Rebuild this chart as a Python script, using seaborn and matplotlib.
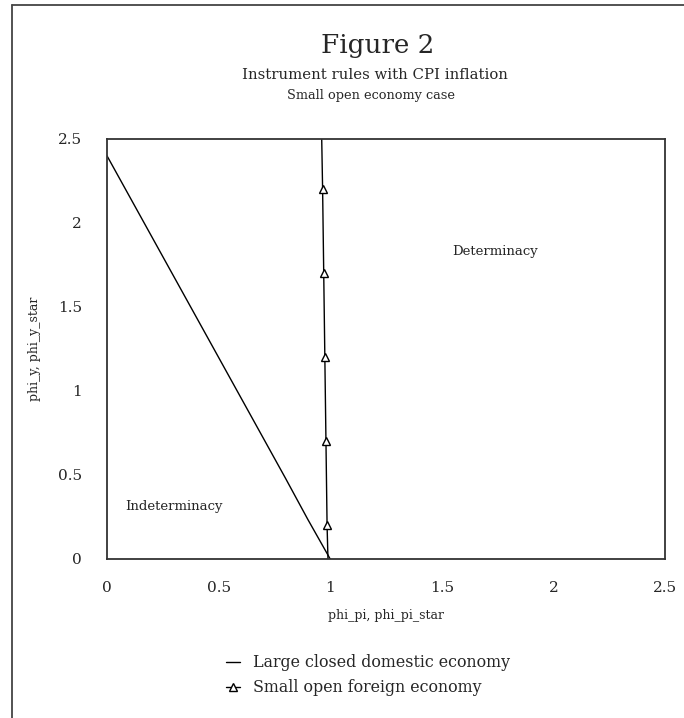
import matplotlib
matplotlib.use("Agg")
import matplotlib.pyplot as plt
import seaborn as sns
import pandas as pd
from matplotlib.lines import Line2D

sns.set_theme(style="white")
plt.rcParams['font.family'] = ['DejaVu Serif']

# Data
closed_x = [0.0, 0.1, 0.2, 0.3, 0.4, 0.5, 0.6, 0.7, 0.8, 0.9, 1.0]
closed_y = [2.4, 2.16, 1.92, 1.68, 1.44, 1.2, 0.96, 0.72, 0.48, 0.235, 0.0]
open_x = [0.99, 0.986, 0.981, 0.976, 0.971, 0.966, 0.962]
open_y = [0.0, 0.2, 0.7, 1.2, 1.7, 2.2, 2.5]
open_marker_idx = [1, 2, 3, 4, 5]
ticks = [0, 0.5, 1, 1.5, 2, 2.5]
tick_labels = ["0", "0.5", "1", "1.5", "2", "2.5"]

df_closed = pd.DataFrame({"x": closed_x, "y": closed_y})
df_open = pd.DataFrame({"x": open_x, "y": open_y})

fig = plt.figure(figsize=(6.84, 7.18), dpi=100)
ax = fig.add_axes([107/684, 1-559/718, (665-107)/684, (559-139)/718])

sns.lineplot(data=df_closed, x="x", y="y", ax=ax, color="black", lw=1.0,
             sort=False, estimator=None, label="Large closed domestic economy")
sns.lineplot(data=df_open, x="x", y="y", ax=ax, color="black", lw=1.0,
             sort=False, estimator=None, marker="^", markevery=open_marker_idx,
             markersize=6, markerfacecolor="white", markeredgecolor="black",
             markeredgewidth=1.0, label="Small open foreign economy")

ax.set_xlim(0, 2.5)
ax.set_ylim(0, 2.5)
ax.set_xticks(ticks)
ax.set_xticklabels(tick_labels, fontsize=11)
ax.set_yticks(ticks)
ax.set_yticklabels(tick_labels, fontsize=11)
ax.tick_params(axis="x", length=0, pad=16)
ax.tick_params(axis="y", length=0, pad=18)
for s in ax.spines.values():
    s.set_visible(True)
    s.set_color("#333333")
    s.set_linewidth(1.3)

ax.set_xlabel("phi_pi, phi_pi_star", fontsize=9, labelpad=10)
ax.set_ylabel("phi_y, phi_y_star", fontsize=9, labelpad=12)

ax.text(1.74, 1.83, "Determinacy", fontsize=9.5, ha="center", va="center")
ax.text(0.30, 0.315, "Indeterminacy", fontsize=9.5, ha="center", va="center")

fig.text(378/684, 1-45/718, "Figure 2", fontsize=18.8, ha="center", va="center")
fig.text(375/684, 1-75/718, "Instrument rules with CPI inflation", fontsize=10.7, ha="center", va="center")
fig.text(371/684, 1-96/718, "Small open economy case", fontsize=9.3, ha="center", va="center")

leg = ax.legend(loc="upper center", bbox_to_anchor=(0.468, -0.193), frameon=False,
                fontsize=11.4, handlelength=0.9, handletextpad=0.8, labelspacing=0.5)

# Outer border (left and top)
fig.add_artist(Line2D([12/684, 12/684], [0, 1-5/718], color="#444444", lw=1.3,
                      transform=fig.transFigure))
fig.add_artist(Line2D([12/684, 1], [1-5/718, 1-5/718], color="#444444", lw=1.3,
                      transform=fig.transFigure))

fig.savefig("out.png", dpi=100)
